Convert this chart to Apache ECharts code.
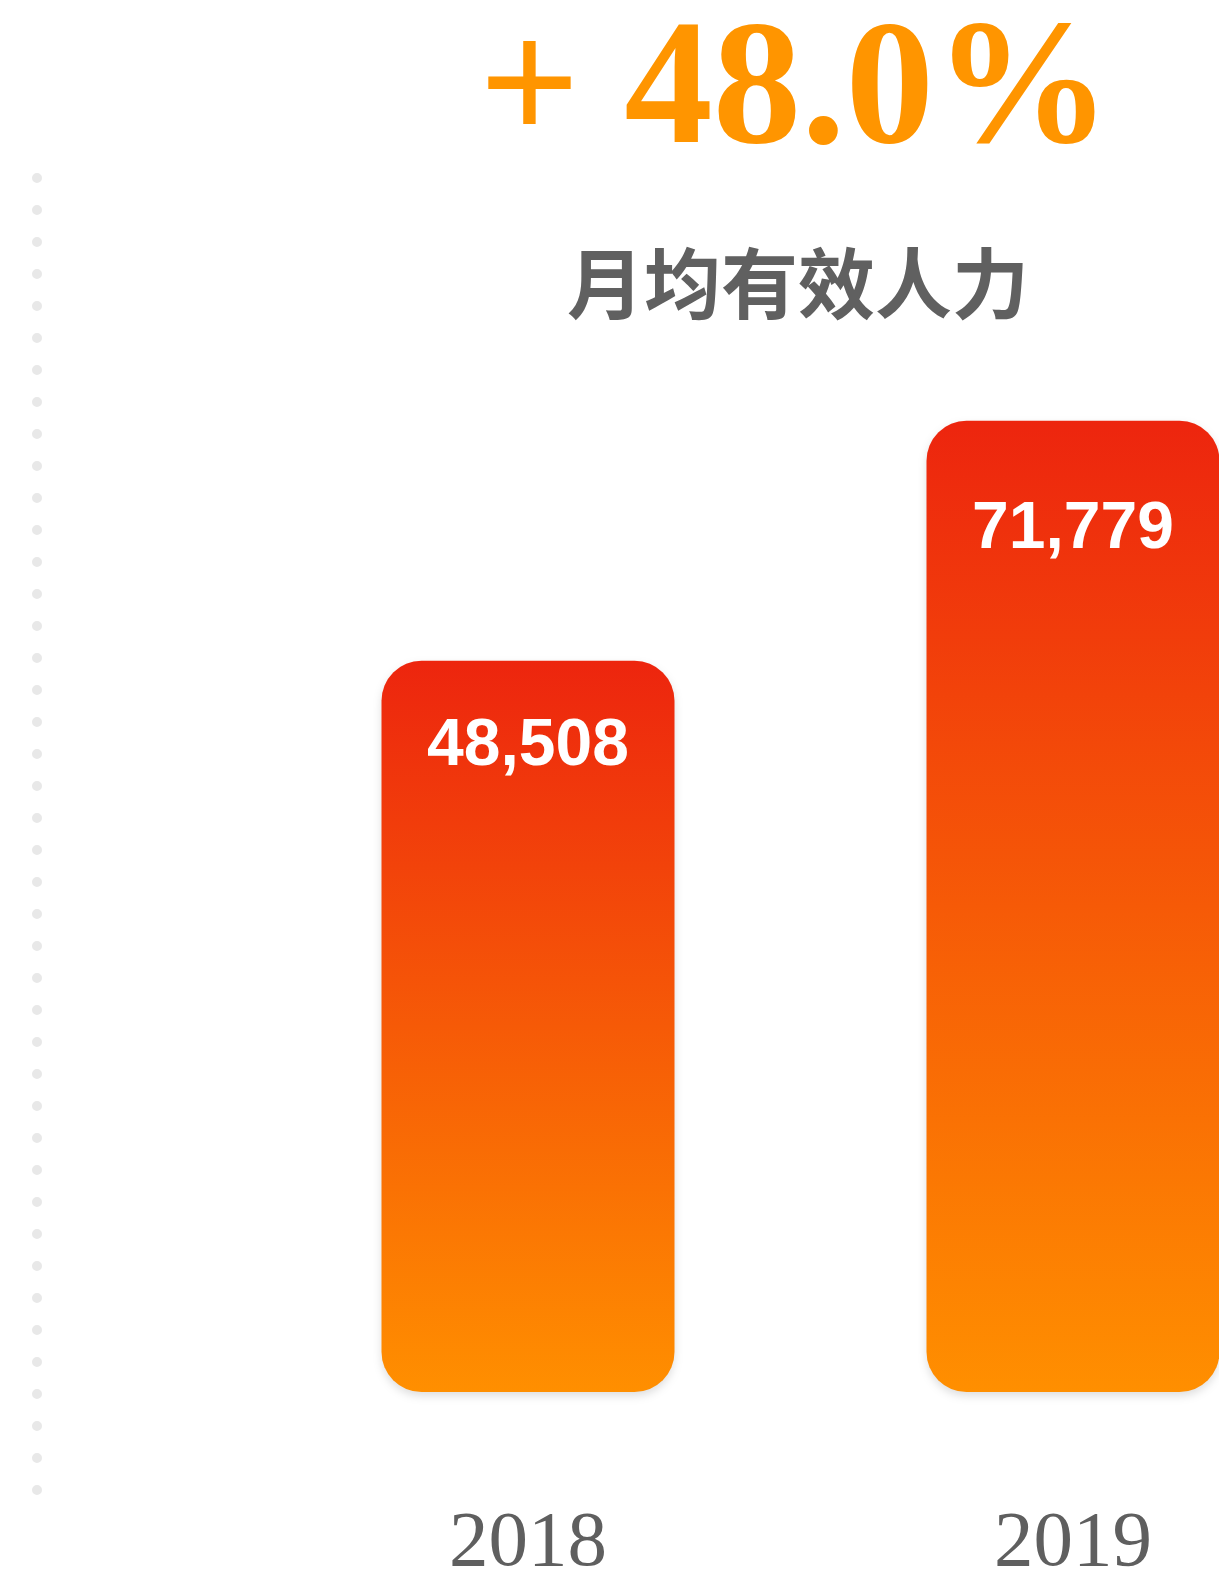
<!DOCTYPE html>
<html>
<head>
<meta charset="utf-8">
<script src="https://cdn.jsdelivr.net/npm/echarts@6/dist/echarts.min.js"></script>
<style>
  html, body { margin: 0; padding: 0; background: #fff; }
  #chart { width: 1219px; height: 1576px; }
</style>
</head>
<body>
<div id="chart"></div>
<script>
  var years = ['2018', '2019'];
  var manpower = [48508, 71779];
  var growthText = '+ 48.0%';
  var subTitle = '月均有效人力';
  // label offset from bar top differs a bit per bar in the original
  var labelDistance = [53, 76];

  var chart = echarts.init(document.getElementById('chart'));

  var barData = manpower.map(function (v, i) {
    return {
      value: v,
      label: { distance: labelDistance[i] }
    };
  });

  var option = {
    backgroundColor: '#fff',
    animation: false,
    graphic: [
      {
        type: 'line',
        shape: { x1: 37, y1: 178, x2: 37, y2: 1496 },
        style: { stroke: '#e8e8e8', lineWidth: 10, lineCap: 'round', lineDash: [0, 32] },
        silent: true
      },
      {
        type: 'text',
        x: 795,
        y: 96,
        style: {
          text: growthText,
          fill: '#ff9500',
          font: 'bold 177px "Liberation Serif", "DejaVu Serif", serif',
          textAlign: 'center',
          textVerticalAlign: 'middle'
        }
      },
      {
        type: 'text',
        x: 798,
        y: 284,
        style: {
          text: subTitle,
          fill: '#606060',
          font: 'bold 77px "Noto Sans CJK SC", sans-serif',
          textAlign: 'center',
          textVerticalAlign: 'middle'
        }
      }
    ],
    grid: {
      left: 528,
      right: 146,
      top: 336,
      bottom: 184,
      containLabel: false,
      outerBoundsMode: 'none'
    },
    xAxis: {
      type: 'category',
      data: years,
      boundaryGap: false,
      axisLine: { show: false },
      axisTick: { show: false },
      axisLabel: {
        margin: 113,
        fontFamily: '"Liberation Serif", serif',
        fontSize: 79,
        color: '#5f5f5f'
      }
    },
    yAxis: {
      type: 'value',
      min: -22400,
      max: 80000,
      startValue: -22400,
      show: false,
      splitLine: { show: false }
    },
    series: [
      {
        type: 'bar',
        data: barData,
        barWidth: 293,
        clip: false,
        itemStyle: {
          borderRadius: 40,
          color: new echarts.graphic.LinearGradient(0, 0, 0, 1, [
            { offset: 0, color: '#ed250e' },
            { offset: 1, color: '#ff8f00' }
          ]),
          shadowColor: 'rgba(0,0,0,0.13)',
          shadowBlur: 8,
          shadowOffsetY: 4
        },
        label: {
          show: true,
          position: 'insideTop',
          color: '#fff',
          fontFamily: '"Liberation Sans", Arial, sans-serif',
          fontWeight: 'bold',
          fontSize: 66,
          formatter: function (p) {
            return p.value.toLocaleString('en-US');
          }
        }
      }
    ]
  };

  chart.setOption(option);
</script>
</body>
</html>
